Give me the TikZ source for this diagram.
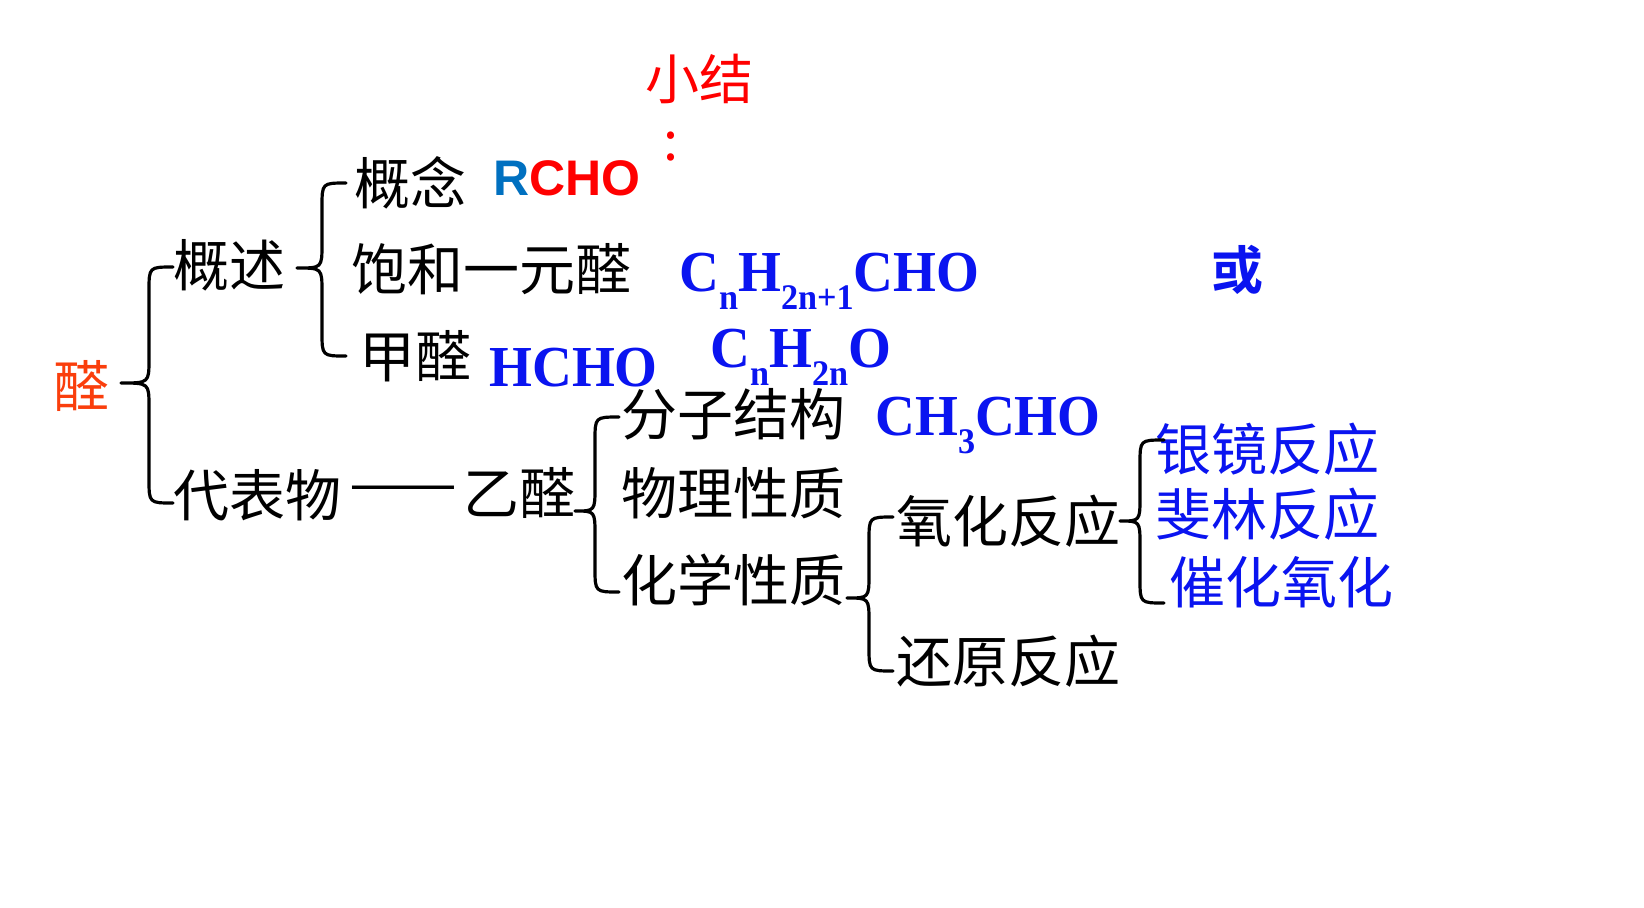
\documentclass[tikz,border=0pt]{standalone}
\usepackage{fontspec}
\setmainfont{Liberation Serif}
\newfontfamily\cjk{Noto Sans CJK SC}
\newfontfamily\cjkbold{Noto Sans CJK SC Bold}
\newfontfamily\lsans{Liberation Sans}
\usetikzlibrary{calc}
\definecolor{aldred}{RGB}{250,62,12}
\definecolor{rblue}{RGB}{0,112,192}
\definecolor{formblue}{RGB}{10,20,240}
\newcommand\chsub[1]{\raisebox{-0.32em}{\fontsize{18}{18}\selectfont #1}}
\newcommand\condense[1]{\scalebox{0.95}[1]{#1}}
\newcommand\mybrace[3]{%
  \draw[brace] let \p1=(#1), \p2=(#2), \p3=(#3) in
    (\x2,\y2) .. controls (\x2-12pt,\y2) .. (\x2-12pt,\y2-12pt)
    -- (\x2-12pt,\y1+12pt) .. controls (\x2-12pt,\y1) .. (\x1,\y1)
    .. controls (\x2-12pt,\y1) .. (\x2-12pt,\y1-12pt)
    -- (\x2-12pt,\y3+12pt) .. controls (\x2-12pt,\y3) .. (\x3,\y3);}
\begin{document}
\begin{tikzpicture}[x=0.5pt,y=-0.5pt,
  zh/.style={font=\cjk\fontsize{28}{28}\selectfont, inner sep=0pt, anchor=west},
  zhb/.style={zh, text=formblue},
  fm/.style={font=\bfseries\fontsize{29}{29}\selectfont, text=formblue, inner sep=0pt, anchor=base west},
  brace/.style={line width=1.6pt, line cap=round, line join=round}]
\useasboundingbox (0,0) rectangle (1644,907);
\fill[white] (0,0) rectangle (1644,907);

% title
\node[zh, anchor=center, text=red, font=\cjk\fontsize{27}{27}\selectfont] (xj) at (699,79) {小结};
\node[inner sep=0pt, text=red, font=\cjk\fontsize{27}{27}\selectfont] (colon) at (671,147) {:};

% root
\node[zh, anchor=center, text=aldred] (ald) at (82,386) {醛};

% first level
\node[zh] (gs) at (173,265) {概述};
\node[zh] (dbw) at (173,495) {代表物};
\node[zh] (dash) at (349,495) {\scalebox{1.15}[1]{——}};
\node[zh] (yq) at (463,493) {乙醛};

% overview branch
\node[zh] (gn) at (354,183) {概念};
\node[inner sep=0pt, anchor=base west, font=\lsans\bfseries\fontsize{25}{25}\selectfont] (rcho) at (493,195) {\textcolor{rblue}{R}\textcolor{red}{CHO}};
\node[zh] (bh) at (351,269) {饱和一元醛};
\node[fm] (f1) at (679,291) {\condense{C\chsub{n}H\chsub{2n+1}CHO}};
\node[inner sep=0pt, anchor=center, text=formblue, font=\cjkbold\fontsize{26}{26}\selectfont] (huo) at (1237,270) {或};
\node[zh] (jq) at (359,356) {甲醛};
\node[fm] (hcho) at (489,386) {\condense{HCHO}};
\node[fm] (f2) at (710,367) {\condense{C\chsub{n}H\chsub{2n}O}};

% acetaldehyde branch
\node[zh] (fz) at (621,414) {分子结构};
\node[fm] (f3) at (875,435) {\condense{CH\chsub{3}CHO}};
\node[zh] (wl) at (621,493) {物理性质};
\node[zh] (hx) at (621,580) {化学性质};
\node[zh] (yh) at (896,521) {氧化反应};
\node[zh] (hy) at (896,661) {还原反应};
\node[zhb] (yj) at (1155,449) {银镜反应};
\node[zhb] (fl) at (1155,514) {斐林反应};
\node[zhb] (ch) at (1169,582) {催化氧化};

% brace end points
\coordinate (b1t) at (121,383); \coordinate (b1a) at (173,267); \coordinate (b1b) at (173,503);
\coordinate (b2t) at (297,268); \coordinate (b2a) at (346,183); \coordinate (b2b) at (346,356);
\coordinate (b3t) at (575,511); \coordinate (b3a) at (619,417); \coordinate (b3b) at (619,592);
\coordinate (b4t) at (847,598); \coordinate (b4a) at (893,517); \coordinate (b4b) at (893,671);
\coordinate (b5t) at (1120,521); \coordinate (b5a) at (1164,440); \coordinate (b5b) at (1164,603);

\mybrace{b1t}{b1a}{b1b}
\mybrace{b2t}{b2a}{b2b}
\mybrace{b3t}{b3a}{b3b}
\mybrace{b4t}{b4a}{b4b}
\mybrace{b5t}{b5a}{b5b}
\end{tikzpicture}
\end{document}
